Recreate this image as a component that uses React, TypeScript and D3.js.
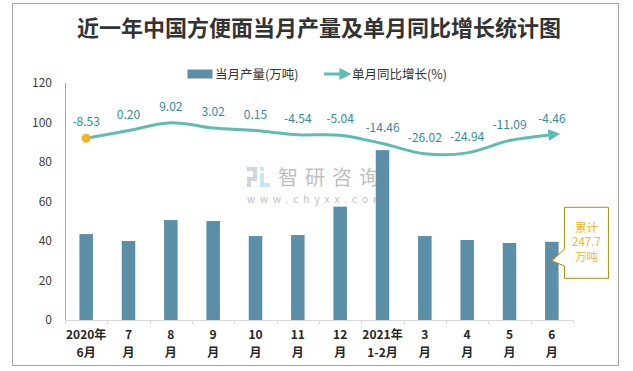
import React from "react";
import * as d3 from "d3";

const categoriesTop = ["2020年", "7", "8", "9", "10", "11", "12", "2021年", "3", "4", "5", "6"];
const categoriesBottom = ["6月", "月", "月", "月", "月", "月", "月", "1-2月", "月", "月", "月", "月"];
const production = [43.5, 40, 50.6, 50.1, 42.5, 43, 57.4, 86, 42.5, 40.5, 39, 39.6];
const growth = [-8.53, 0.2, 9.02, 3.02, 0.15, -4.54, -5.04, -14.46, -26.02, -24.94, -11.09, -4.46];
const yTicks = [0, 20, 40, 60, 80, 100, 120];
const title = "近一年中国方便面当月产量及单月同比增长统计图";
const legendBar = "当月产量(万吨)";
const legendLine = "单月同比增长(%)";
const calloutLines = ["累计", "247.7", "万吨"];

const W = 633;
const H = 371;
const BAR = "#5b8fa7";
const LINE = "#5dbdb3";
const LABEL = "#2f8d9c";
const FONT = "'Noto Sans CJK SC', 'Noto Sans', sans-serif";

export default function App() {
  const idx = categoriesTop.map((_, i) => String(i));
  const x = d3.scaleBand().domain(idx).range([65, 573]).paddingInner(0).paddingOuter(0);
  const y = d3.scaleLinear().domain([0, 120]).range([320, 83]);
  const y2 = d3.scaleLinear().domain([-213, 53.7]).range([320, 83]);
  const cx = (i: number) => (x(String(i)) as number) + x.bandwidth() / 2;
  const barW = 13.5;

  const lineGen = d3
    .line<number>()
    .x((_, i) => cx(i))
    .y((d) => y2(d))
    .curve(d3.curveCatmullRom.alpha(0));
  const linePath = lineGen(growth) || "";

  const last = growth.length - 1;
  const lx = cx(last);
  const tipY = 260.7;
  const boxX = lx + 12.6;
  const boxY = 207.3;
  const boxW = 44;
  const boxH = 71;
  const callout = `M${boxX},${boxY} H${boxX + boxW} V${boxY + boxH} H${boxX} V${tipY + 5.3} L${lx},${tipY} L${boxX},${tipY - 11.4} Z`;

  const boundaries = d3.range(categoriesTop.length + 1).map((i) => 65 + i * x.bandwidth());

  return (
    <div style={{ position: "absolute", left: 0, top: 0 }}>
      <svg width={W} height={H} style={{ display: "block", background: "#fff" }}>
        <defs>
          <marker id="arrow" viewBox="0 0 10 10" refX="3" refY="5" markerWidth="4" markerHeight="4" orient="auto" markerUnits="strokeWidth">
            <path d="M0,0 L10,5 L0,10 Z" fill={LINE} />
          </marker>
        </defs>
        <rect x={0} y={0} width={W} height={H} fill="#fff" />
        <rect x={12.5} y={3.5} width={606} height={362} fill="none" stroke="#a6a6a6" strokeWidth={1} />

        <text x={319} y={36} textAnchor="middle" fontFamily={FONT} fontWeight={700} fontSize={22} fill="#333">
          {title}
        </text>

        {/* legend */}
        <rect x={187.5} y={69.5} width={25} height={9} fill={BAR} />
        <text x={215} y={78.5} fontFamily={FONT} fontSize={12.5} fill="#333">
          {legendBar}
        </text>
        <line x1={324} y1={74} x2={343} y2={74} stroke={LINE} strokeWidth={3} markerEnd="url(#arrow)" />
        <text x={352} y={78.5} fontFamily={FONT} fontSize={12.5} fill="#333">
          {legendLine}
        </text>

        {/* y axis */}
        <line x1={65.5} y1={83} x2={65.5} y2={321} stroke="#a6a6a6" />
        {yTicks.map((t) => (
          <text key={t} x={52} y={y(t) + 4} textAnchor="end" fontFamily={FONT} fontSize={12} fill="#404040">
            {t}
          </text>
        ))}

        {/* bars */}
        {production.map((v, i) => (
          <rect key={i} x={cx(i) - barW / 2} y={y(v)} width={barW} height={y(0) - y(v)} fill={BAR} />
        ))}

        {/* x axis */}
        <line x1={65} y1={320.5} x2={573} y2={320.5} stroke="#d9d9d9" />
        {boundaries.map((b, i) => (
          <line key={i} x1={Math.round(b) + 0.5} y1={320} x2={Math.round(b) + 0.5} y2={324} stroke="#d9d9d9" />
        ))}
        {categoriesTop.map((c, i) => (
          <g key={i} fontFamily={FONT} fontWeight={700} fontSize={12} fill="#262626" textAnchor="middle">
            <text x={cx(i)} y={339}>{c}</text>
            <text x={cx(i)} y={357}>{categoriesBottom[i]}</text>
          </g>
        ))}

        {/* line */}
        <path d={linePath} fill="none" stroke={LINE} strokeWidth={3} strokeLinecap="round" markerEnd="url(#arrow)" />
        <circle cx={cx(0)} cy={y2(growth[0])} r={4.5} fill="#f5b324" />
        {growth.map((v, i) => (
          <text key={i} x={cx(i)} y={y2(v) - 12} textAnchor="middle" fontFamily={FONT} fontSize={12} fill={LABEL}>
            {v.toFixed(2)}
          </text>
        ))}

        {/* watermark */}
        <g opacity={0.55}>
          <rect x={247} y={167} width={10} height={4} fill="#a9b6cc" />
          <rect x={253} y={171} width={4} height={6} fill="#a9b6cc" />
          <rect x={247} y={177} width={10} height={4} fill="#a9b6cc" />
          <rect x={247} y={181} width={4} height={6} fill="#a9b6cc" />
          <rect x={260} y={167} width={4} height={4} fill="#9fd0ee" />
          <rect x={260} y={173} width={4} height={14} fill="#9fd0ee" />
          <rect x={264} y={183} width={6} height={4} fill="#9fd0ee" />
          <text x={278} y={185} fontFamily={FONT} fontSize={20} letterSpacing={7} fill="#8c8c8c">
            智研咨询
          </text>
          <text x={247} y={203} fontFamily={FONT} fontSize={10} letterSpacing={5} fill="#8c8c8c">
            www.chyxx.com
          </text>
        </g>

        {/* callout */}
        <path d={callout} fill="#fff" stroke="#b8860b" strokeWidth={1} />
        {calloutLines.map((t, i) => (
          <text key={i} x={boxX + boxW / 2} y={231.5 + i * 14.5} textAnchor="middle" fontFamily={FONT} fontSize={11.5} fill="#f5b324">
            {t}
          </text>
        ))}
      </svg>
    </div>
  );
}
